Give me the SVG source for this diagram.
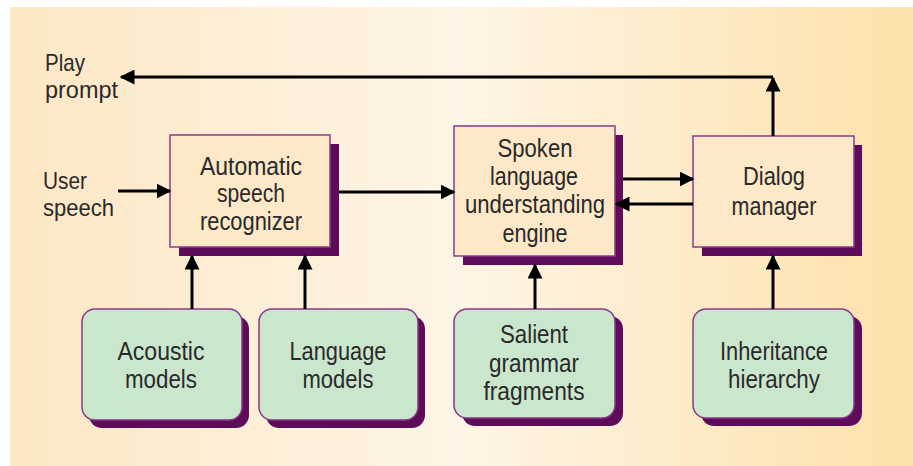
<svg xmlns="http://www.w3.org/2000/svg" width="913" height="466" viewBox="0 0 913 466">
<defs>
<linearGradient id="bg" x1="0" y1="0" x2="1" y2="0">
<stop offset="0" stop-color="#fde7c4"/>
<stop offset="0.5" stop-color="#fef5e6"/>
<stop offset="1" stop-color="#fde1aa"/>
</linearGradient>
<marker id="ah" viewBox="0 0 10 10" refX="9" refY="5" markerWidth="5" markerHeight="5" orient="auto" markerUnits="strokeWidth">
<path d="M0,0 L10,5 L0,10 z" fill="#000"/>
</marker>
<style>
.t{font-family:"Liberation Sans",Arial,sans-serif;font-size:25px;fill:#2a2a2a;text-anchor:middle}
.l{font-family:"Liberation Sans",Arial,sans-serif;font-size:24px;fill:#2a2a2a}
.sh{fill:#5e0c5a}
.box{fill:#fde8c8;stroke:#8a3a8a;stroke-width:1.5}
.g{fill:#cae6cd;stroke:#8a3a8a;stroke-width:1.5}
.c{stroke:#000;stroke-width:3;fill:none}
</style>
</defs>
<rect x="10" y="7" width="903" height="459" fill="url(#bg)"/>

<g id="asr">
<rect class="sh" x="179" y="144" width="160" height="112"/>
<rect class="box" x="170" y="135" width="160" height="112"/>
<text class="t" x="251" y="175" textLength="102" lengthAdjust="spacingAndGlyphs">Automatic</text>
<text class="t" x="251" y="202" textLength="68" lengthAdjust="spacingAndGlyphs">speech</text>
<text class="t" x="251" y="230" textLength="102" lengthAdjust="spacingAndGlyphs">recognizer</text>
</g>

<g id="slu">
<rect class="sh" x="463" y="135" width="160" height="130"/>
<rect class="box" x="454" y="126" width="161" height="130"/>
<text class="t" x="535" y="157" textLength="75" lengthAdjust="spacingAndGlyphs">Spoken</text>
<text class="t" x="534" y="185" textLength="88" lengthAdjust="spacingAndGlyphs">language</text>
<text class="t" x="535" y="213" textLength="140" lengthAdjust="spacingAndGlyphs">understanding</text>
<text class="t" x="535" y="242" textLength="65" lengthAdjust="spacingAndGlyphs">engine</text>
</g>

<g id="dialog">
<rect class="sh" x="702" y="145" width="160" height="111"/>
<rect class="box" x="693" y="136" width="161" height="111"/>
<text class="t" x="774" y="185" textLength="62" lengthAdjust="spacingAndGlyphs">Dialog</text>
<text class="t" x="774" y="215" textLength="85" lengthAdjust="spacingAndGlyphs">manager</text>
</g>

<g id="acoustic">
<rect class="sh" x="89" y="316" width="160" height="112" rx="13"/>
<rect class="g" x="82" y="309" width="160" height="111" rx="13"/>
<text class="t" x="161" y="360" textLength="87" lengthAdjust="spacingAndGlyphs">Acoustic</text>
<text class="t" x="161" y="388" textLength="72" lengthAdjust="spacingAndGlyphs">models</text>
</g>

<g id="language">
<rect class="sh" x="266" y="316" width="159" height="112" rx="13"/>
<rect class="g" x="259" y="309" width="159" height="111" rx="13"/>
<text class="t" x="338" y="360" textLength="97" lengthAdjust="spacingAndGlyphs">Language</text>
<text class="t" x="338" y="388" textLength="71" lengthAdjust="spacingAndGlyphs">models</text>
</g>

<g id="salient">
<rect class="sh" x="462" y="316" width="161" height="110" rx="13"/>
<rect class="g" x="454" y="309" width="161" height="109" rx="13"/>
<text class="t" x="534" y="343" textLength="68" lengthAdjust="spacingAndGlyphs">Salient</text>
<text class="t" x="534" y="372" textLength="90" lengthAdjust="spacingAndGlyphs">grammar</text>
<text class="t" x="534" y="400" textLength="101" lengthAdjust="spacingAndGlyphs">fragments</text>
</g>

<g id="inheritance">
<rect class="sh" x="701" y="316" width="161" height="110" rx="13"/>
<rect class="g" x="693" y="309" width="161" height="109" rx="13"/>
<text class="t" x="774" y="360" textLength="108" lengthAdjust="spacingAndGlyphs">Inheritance</text>
<text class="t" x="774" y="388" textLength="92" lengthAdjust="spacingAndGlyphs">hierarchy</text>
</g>

<g id="labels">
<text class="l" x="45" y="71" textLength="40" lengthAdjust="spacingAndGlyphs">Play</text>
<text class="l" x="45" y="98" textLength="73" lengthAdjust="spacingAndGlyphs">prompt</text>
<text class="l" x="43" y="189" textLength="44" lengthAdjust="spacingAndGlyphs">User</text>
<text class="l" x="43" y="216" textLength="71" lengthAdjust="spacingAndGlyphs">speech</text>
</g>

<g id="connectors">
<path class="c" d="M773,136 V78" marker-end="url(#ah)"/>
<path class="c" d="M773,77 H121" marker-end="url(#ah)"/>
<path class="c" d="M118,191 H170" marker-end="url(#ah)"/>
<path class="c" d="M339,192 H454" marker-end="url(#ah)"/>
<path class="c" d="M623,179 H693" marker-end="url(#ah)"/>
<path class="c" d="M693,204 H616" marker-end="url(#ah)"/>
<path class="c" d="M192,309 V256" marker-end="url(#ah)"/>
<path class="c" d="M305,309 V256" marker-end="url(#ah)"/>
<path class="c" d="M535,309 V265" marker-end="url(#ah)"/>
<path class="c" d="M773,309 V256" marker-end="url(#ah)"/>
</g>
</svg>
